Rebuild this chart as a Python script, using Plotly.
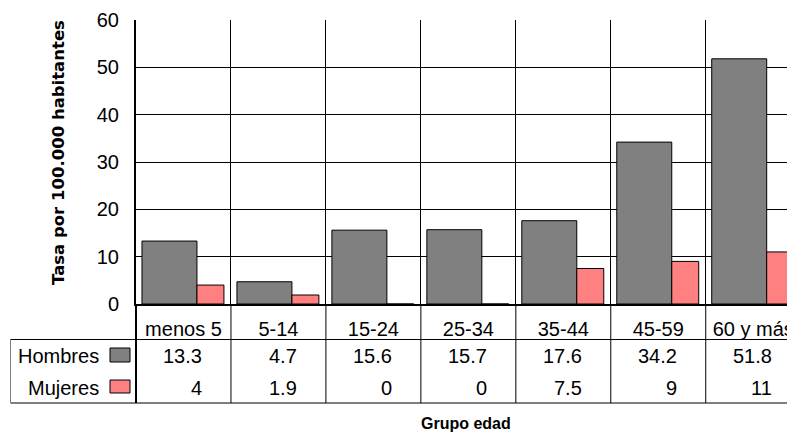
import plotly.graph_objects as go

categorias = ["menos 5", "5-14", "15-24", "25-34", "35-44", "45-59", "60 y más"]
hombres = [13.3, 4.7, 15.6, 15.7, 17.6, 34.2, 51.8]
mujeres = [4, 1.9, 0, 0, 7.5, 9, 11]
series_nombres = ["Hombres", "Mujeres"]
y_ticks = [0, 10, 20, 30, 40, 50, 60]

GRAY = "#808080"
PINK = "#FF8080"
FONT = "Liberation Sans, Arial, sans-serif"

fig = go.Figure()
fig.add_trace(go.Bar(x=categorias, y=hombres, name=series_nombres[0],
                     marker=dict(color=GRAY, line=dict(color="black", width=1)),
                     width=0.579, offset=-0.437, cliponaxis=True))
fig.add_trace(go.Bar(x=categorias, y=mujeres, name=series_nombres[1],
                     marker=dict(color=PINK, line=dict(color="black", width=1)),
                     width=0.284, offset=0.142, cliponaxis=True))

# page body has an 8px margin: the figure starts at (8, 8) in the window
OFF = 8
W, H = 795 - OFF, 434 - OFF
L, T = 136 - OFF, 20 - OFF
plot_h = 304 - 20
B = H - T - plot_h
plot_w = W - L


def py(Y):
    return (304 - Y) / plot_h


def px(X):
    return (X - 136) / plot_w


shapes = []
annotations = []
# table horizontal lines
for Y in (339.5, 403):
    shapes.append(dict(type="line", xref="paper", yref="paper", x0=px(10.5), x1=1.0,
                       y0=py(Y), y1=py(Y), line=dict(color="black", width=1)))
# table left border
shapes.append(dict(type="line", xref="paper", yref="paper", x0=px(10.5), x1=px(10.5),
                   y0=py(339.5), y1=py(403), line=dict(color="#808080", width=1)))
# y-axis extension into the table
shapes.append(dict(type="line", xref="paper", yref="paper", x0=0, x1=0,
                   y0=py(403), y1=0, line=dict(color="black", width=2)))
# category boundaries through the table
for i in range(len(categorias)):
    shapes.append(dict(type="line", xref="x", yref="paper", x0=i + 0.5, x1=i + 0.5,
                       y0=py(403), y1=0, line=dict(color="black", width=1)))

# legend keys and row labels
row_y = [355.5, 387.5]
key_y = [(348, 362), (380, 393)]
for name, color, ry, (k0, k1) in zip(series_nombres, [GRAY, PINK], row_y, key_y):
    shapes.append(dict(type="rect", xref="paper", yref="paper", x0=px(110), x1=px(130),
                       y0=py(k1), y1=py(k0), fillcolor=color,
                       line=dict(color="black", width=1)))
    annotations.append(dict(text=name, xref="paper", yref="paper", x=px(101), y=py(ry),
                            xanchor="right", yanchor="middle", showarrow=False,
                            font=dict(family=FONT, size=20, color="black")))

# table values
for vals, ry in zip([hombres, mujeres], row_y):
    for i, v in enumerate(vals):
        annotations.append(dict(text=f"{v:g}", xref="x", yref="paper", x=i + 0.215, y=py(ry),
                                xanchor="right", yanchor="middle", showarrow=False,
                                font=dict(family=FONT, size=20, color="black")))

# axis titles
annotations.append(dict(text="<b>Grupo edad</b>", xref="paper", yref="paper", x=0.5, y=py(424),
                        xanchor="center", yanchor="middle", showarrow=False,
                        font=dict(family=FONT, size=16, color="black")))
annotations.append(dict(text="<b>Tasa por 100.000 habitantes</b>", xref="paper", yref="paper",
                        x=px(58), y=py(153), textangle=-90, xanchor="center", yanchor="middle",
                        showarrow=False,
                        font=dict(family="DejaVu Sans, sans-serif", size=16.5, color="black")))

fig.update_layout(
    width=W, height=H,
    margin=dict(l=L, r=0, t=T, b=B, pad=0),
    paper_bgcolor="white", plot_bgcolor="white",
    barmode="overlay", showlegend=False,
    shapes=shapes, annotations=annotations,
    font=dict(family=FONT, size=20, color="black"),
)
fig.update_xaxes(range=[-0.5, 6.44], tickson="boundaries", showgrid=True, gridcolor="black",
                 gridwidth=1, ticks="", showline=True, linecolor="black", linewidth=2,
                 tickfont=dict(family=FONT, size=20, color="black"), ticklabelstandoff=6,
                 automargin=False, zeroline=False)
fig.update_yaxes(range=[0, 60], tickvals=y_ticks, showgrid=True, gridcolor="black", gridwidth=1,
                 ticks="", showline=True, linecolor="black", linewidth=2, zeroline=False,
                 tickfont=dict(family=FONT, size=20, color="black"), ticklabelstandoff=11,
                 automargin=False)

fig.write_html("out.html")
